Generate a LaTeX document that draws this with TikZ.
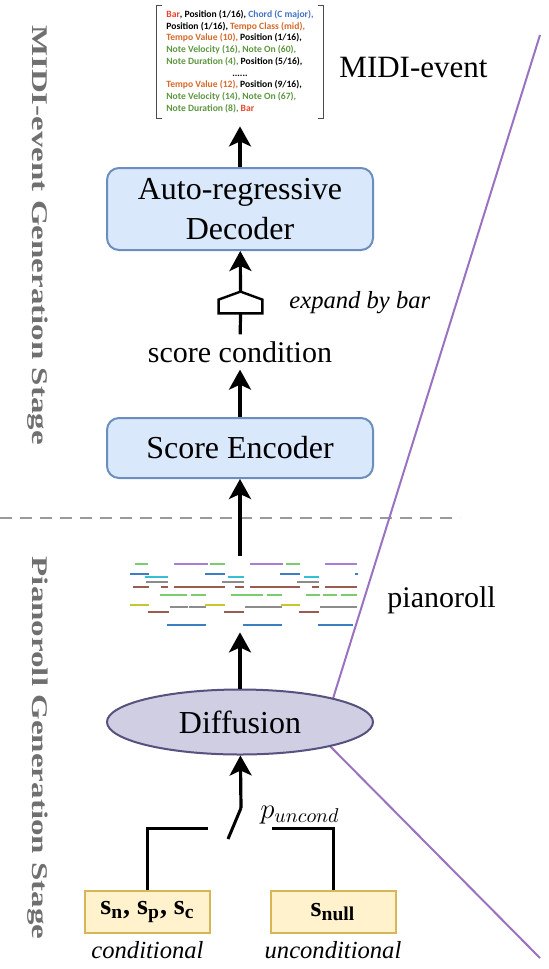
\documentclass[tikz,border=0pt]{standalone}
\usepackage{fontspec}
\setmainfont{Liberation Serif}
\newfontfamily\tokfont{Carlito}
\usepackage{graphicx}
\usetikzlibrary{arrows.meta,shapes.geometric,positioning}

\definecolor{encfill}{HTML}{DAE8FC}
\definecolor{encline}{HTML}{6C8EBF}
\definecolor{difffill}{HTML}{D0CEE2}
\definecolor{diffline}{HTML}{56517E}
\definecolor{srcfill}{HTML}{FFF2CC}
\definecolor{srcline}{HTML}{D6B656}
\definecolor{split}{HTML}{9B72BF}
\definecolor{stagegray}{HTML}{6F6F6F}
\definecolor{tkred}{HTML}{E8452C}
\definecolor{tkblue}{HTML}{4472C4}
\definecolor{tkorange}{HTML}{D46A2A}
\definecolor{tkgreen}{HTML}{5E9640}
\definecolor{rpurple}{HTML}{A67FD4}
\definecolor{rblue}{HTML}{3A7FC1}
\definecolor{rcyan}{HTML}{35BFD6}
\definecolor{rgray}{HTML}{8C8C8C}
\definecolor{rbrown}{HTML}{9A5B50}
\definecolor{rgreen}{HTML}{7CCB6C}
\definecolor{rolive}{HTML}{C6C62F}

\begin{document}
\begin{tikzpicture}[x=0.5pt, y=-0.5pt,
            block/.style={draw=encline, line width=1pt, rounded corners=6pt, fill=encfill, minimum width=133pt, align=center, font=\fontsize{16}{20}\selectfont},
            source/.style={draw=srcline, line width=1pt, fill=srcfill, minimum width=62.5pt, minimum height=21pt, font=\fontsize{14}{16}\selectfont\bfseries},
            stage/.style={rotate=-90, text=stagegray, font=\fontsize{16.5}{18}\selectfont\bfseries},
            caption/.style={font=\fontsize{12.3}{14}\selectfont\itshape},
            flow/.style={-{Stealth[length=10pt,width=11pt,inset=2.5pt]}, line width=1.6pt},
            wire/.style={line width=1.5pt},
            note/.style={line width=1.3pt}
  ]
  \useasboundingbox (0,0) rectangle (548,969);

  % stages
  \node[stage] (midistage) at (38,235) {\scalebox{1}[0.68]{MIDI-event Generation Stage}};
  \node[stage] (rollstage) at (38,748) {\scalebox{1}[0.68]{Pianoroll Generation Stage}};
  \coordinate (cutleft) at (0,518);
  \coordinate (cutright) at (460,518);
  \draw[stagegray!70, line width=1.2pt, dash pattern=on 6pt off 4pt] (cutleft) -- (cutright);

  \coordinate (splittop) at (540,35);
  \coordinate (splitmid) at (321,737);
  \coordinate (splitbot) at (540,958);
  \draw[split, line width=1pt] (splittop) -- (splitmid) -- (splitbot);

  % midi events
  \node[minimum width=83pt, minimum height=56pt, inner sep=0pt, font=\tokfont\bfseries\fontsize{4.8}{5.85}\selectfont] (tokens) at (240,62) {%
    \begin{tabular}{@{}l@{}}
    \textcolor{tkred}{Bar}, Position (1/16), \textcolor{tkblue}{Chord (C major),}\\
    Position (1/16), \textcolor{tkorange}{Tempo Class (mid),}\\
    \textcolor{tkorange}{Tempo Value (10),} Position (1/16),\\
    \textcolor{tkgreen}{Note Velocity (16), Note On (60),}\\
    \textcolor{tkgreen}{Note Duration (4),} Position (5/16),\\
    \multicolumn{1}{c}{......}\\
    \textcolor{tkorange}{Tempo Value (12),} Position (9/16),\\
    \textcolor{tkgreen}{Note Velocity (14), Note On (67),}\\
    \textcolor{tkgreen}{Note Duration (8),} \textcolor{tkred}{Bar}
    \end{tabular}};
  \draw[black!70, line width=0.6pt] ([xshift=2.5pt]tokens.north west) -- (tokens.north west) -- (tokens.south west) -- ([xshift=2.5pt]tokens.south west);
  \draw[black!70, line width=0.6pt] ([xshift=-2.5pt]tokens.north east) -- (tokens.north east) -- (tokens.south east) -- ([xshift=-2.5pt]tokens.south east);
  \node[font=\fontsize{15.5}{18}\selectfont, right=4.5pt of tokens, yshift=-3pt] (midilabel) {MIDI-event};

  \node[block, minimum height=41pt] (decoder) at (240,209) {Auto-regressive\\Decoder};
  \node[minimum width=21.5pt, minimum height=10.5pt, inner sep=0pt] (expand) at (240.5,302.5) {};
  \draw[line width=1.2pt] (expand.south west) -- (expand.south east) -- ([yshift=-4pt]expand.north east) -- (expand.north) -- ([yshift=-4pt]expand.north west) -- cycle;
  \node[caption, right=10pt of expand] (bylabel) {expand by bar};
  \node[font=\fontsize{15}{18}\selectfont] (cond) at (240,352) {score condition};
  \node[block, minimum height=30pt] (encoder) at (240,448) {Score Encoder};

  % pianoroll
  \node[minimum width=118pt, minimum height=38pt, inner sep=0pt] (roll) at (240,594) {};
  \foreach \ya/\xa/\xb/\col in {
      564/135/148/rgreen, 564/210/225/rgreen, 564/286/300/rgreen,
      564/174/208/rpurple, 564/250/283/rpurple, 564/325/357/rpurple,
      574/130/149/rblue, 574/205/225/rblue, 574/280/300/rblue, 574/355/358/rblue,
      577/145/168/rcyan, 577/228/244/rcyan, 577/304/319/rcyan,
      587/133/149/rbrown, 587/161/168/rbrown, 587/174/225/rbrown, 587/235/244/rbrown,
      587/250/300/rbrown, 587/312/319/rbrown, 587/325/357/rbrown,
      595/160/187/rgreen, 595/191/206/rgreen, 595/231/263/rgreen, 595/267/282/rgreen,
      595/306/320/rgreen, 595/323/337/rgreen, 595/341/357/rgreen,
      605/130/149/rolive, 605/205/225/rolive, 605/281/300/rolive,
      612/148/169/rbrown, 612/224/244/rbrown, 612/299/319/rbrown,
      625/167/206/rblue, 625/243/282/rblue, 625/318/353/rblue}
    \draw[note, draw=\col] (\xa,\ya) -- (\xb,\ya);
  \foreach \ya/\xa/\xb in {582/146/168, 582/222/244, 582/297/319,
      607/170/188, 607/189/206, 607/245/282, 607/320/357}
    \draw[line width=0.8pt, draw=rgray] (\xa,\ya) -- (\xb,\ya);
  \node[font=\fontsize{15}{18}\selectfont, right=11pt of roll, yshift=-3pt] (rolllabel) {pianoroll};

  \node[ellipse, draw=diffline, fill=difffill, line width=1pt, inner sep=0pt, minimum width=133pt, minimum height=32.5pt, font=\fontsize{16}{20}\selectfont] (diffusion) at (240,722) {Diffusion};

  % switch
  \coordinate (pivot) at (241,808);
  \coordinate (blade) at (228,839);
  \coordinate (condtap) at (208,828);
  \coordinate (nulltap) at (272,828);
  \node[source] (condbox) at (147.5,912) {s\textsubscript{n}, s\textsubscript{p}, s\textsubscript{c}};
  \node[source] (nullbox) at (333,912) {s\textsubscript{null}};
  \node[caption, below=0pt of condbox] (condlabel) {conditional};
  \node[caption, below=0pt of nullbox] (nulllabel) {unconditional};
  \node[font=\fontsize{14}{16}\selectfont] (puncond) at (300,815) {$p_{uncond}$};

  \draw[flow, shorten >=4pt] (decoder) -- (tokens);
  \draw[flow] (expand.north) -- (decoder);
  \draw[line width=1.6pt] (cond) -- (expand.south);
  \draw[flow] (encoder) -- (cond);
  \draw[flow] (roll) -- (encoder);
  \draw[flow] (diffusion) -- (roll);
  \draw[flow] (pivot) -- (diffusion);
  \draw[wire] (blade) -- (pivot);
  \draw[wire] (condtap) -| (condbox);
  \draw[wire] (nulltap) -| (nullbox);

\end{tikzpicture}
\end{document}
